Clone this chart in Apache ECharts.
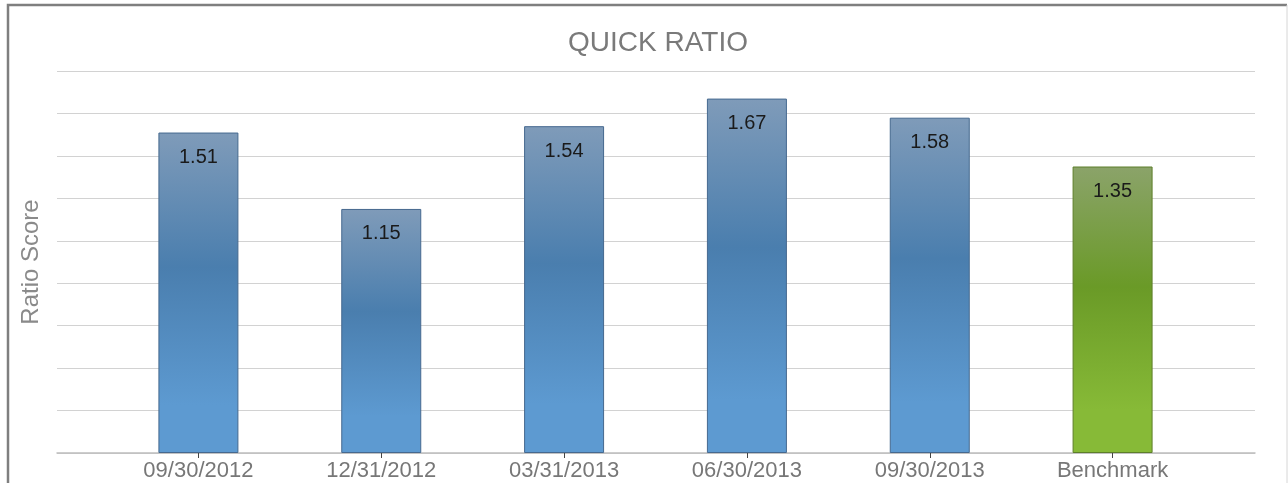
<!DOCTYPE html>
<html>
<head>
<meta charset="utf-8">
<script src="https://cdn.jsdelivr.net/npm/echarts@6/dist/echarts.min.js"></script>
<style>
	html, body { margin: 0; padding: 0; background: #fff; }
	#quick-ratio-chart { width: 1288px; height: 483px; }
</style>
</head>
<body>
<div id="quick-ratio-chart"></div>
<script>
// 数据
var periods = ['09/30/2012', '12/31/2012', '03/31/2013', '06/30/2013', '09/30/2013', 'Benchmark'];
var ratioValues = [1.51, 1.15, 1.54, 1.67, 1.58, 1.35];
var axisMax = 1.8;
var axisStep = 0.2;

// 柱子渐变
function barGradient(top, mid, bottom) {
	return new echarts.graphic.LinearGradient(0, 0, 0, 1, [
		{ offset: 0, color: top },
		{ offset: 0.42, color: mid },
		{ offset: 0.85, color: bottom },
		{ offset: 1, color: bottom }
	]);
}
var blueFill = barGradient('#7f9bb9', '#4a7eae', '#5d9ad1');
var greenFill = barGradient('#8ba36a', '#6a9a27', '#87ba37');

function quickRatioChart() {
	var barData = [];
	for (var i = 0; i < ratioValues.length; i++) {
		var isBench = periods[i] == 'Benchmark';
		barData.push({
			value: ratioValues[i],
			itemStyle: {
				color: isBench ? greenFill : blueFill,
				borderColor: isBench ? '#5d7f2a' : '#46698f',
				borderWidth: 1
			}
		});
	}

	var option = {
		animation: false,
		title: {
			text: 'QUICK RATIO',
			left: 653,
			textAlign: 'center',
			top: 24,
			textStyle: {
				color: '#7a7a7a',
				fontSize: 28,
				fontWeight: 'normal',
				fontFamily: 'Liberation Sans'
			}
		},
		graphic: [
			{
				type: 'polyline',
				shape: { points: [[8, 483], [8, 5], [1287, 5]] },
				style: { stroke: '#7f7f7f', lineWidth: 2.5, fill: null }
			},
			{
				type: 'line',
				shape: { x1: 1287, y1: 5, x2: 1287, y2: 483 },
				style: { stroke: '#d6d6d6', lineWidth: 1 }
			}
		],
		grid: [
			// 网格线
			{ left: 57, right: 33, top: 71, bottom: 30 },
			// 柱子
			{ left: 107, right: 84, top: 71, bottom: 30 }
		],
		xAxis: [
			{
				gridIndex: 0,
				type: 'value',
				min: 0,
				max: 1,
				axisLine: { show: true, lineStyle: { color: '#bdbdbd', width: 1.5 } },
				axisTick: { show: false },
				axisLabel: { show: false },
				splitLine: { show: false }
			},
			{
				gridIndex: 1,
				type: 'category',
				data: periods,
				axisLine: { show: false },
				axisTick: {
					show: true,
					alignWithLabel: true,
					length: 5,
					lineStyle: { color: '#444' }
				},
				axisLabel: {
					color: '#777',
					fontSize: 22,
					margin: 7,
					fontFamily: 'Liberation Sans'
				}
			}
		],
		yAxis: [
			{
				gridIndex: 0,
				type: 'value',
				min: 0,
				max: axisMax,
				interval: axisStep,
				name: 'Ratio Score',
				nameLocation: 'middle',
				nameGap: 14,
				nameTextStyle: {
					color: '#8a8a8a',
					fontSize: 24,
					fontFamily: 'Liberation Sans'
				},
				axisLine: { show: false },
				axisTick: { show: false },
				axisLabel: { show: false },
				splitLine: { lineStyle: { color: '#d2d2d2', width: 1.2 } }
			},
			{
				gridIndex: 1,
				type: 'value',
				min: 0,
				max: axisMax,
				show: false,
				splitLine: { show: false }
			}
		],
		series: [
			{
				type: 'bar',
				xAxisIndex: 1,
				yAxisIndex: 1,
				barWidth: 80,
				label: {
					show: true,
					position: 'insideTop',
					distance: 15,
					color: '#1a1a1a',
					fontSize: 20,
					fontFamily: 'Liberation Sans',
					formatter: function (p) {
						return p.value.toFixed(2);
					}
				},
				data: barData
			}
		]
	};

	var chart = echarts.init(document.getElementById('quick-ratio-chart'));
	chart.setOption(option);
}

quickRatioChart();
</script>
</body>
</html>
